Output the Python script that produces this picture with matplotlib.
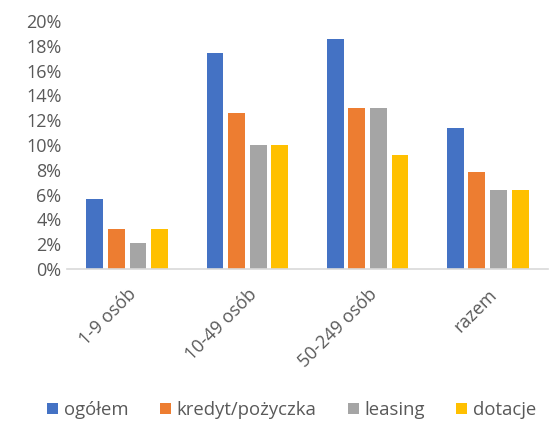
import numpy as np
import matplotlib.pyplot as plt
from matplotlib.ticker import PercentFormatter

plt.rcParams['font.family'] = ['Open Sans', 'DejaVu Sans']

kategorie = ['1-9 osób', '10-49 osób', '50-249 osób', 'razem']
serie = ['ogółem', 'kredyt/pożyczka', 'leasing', 'dotacje']
ogolem = [5.6, 17.4, 18.6, 11.4]
kredyt = [3.2, 12.6, 13.0, 7.8]
leasing = [2.1, 10.0, 13.0, 6.4]
dotacje = [3.2, 10.0, 9.2, 6.4]
kolory = ['#4472c4', '#ed7d31', '#a5a5a5', '#ffc000']

fig = plt.figure(figsize=(5.5, 4.24), dpi=100)
ax = fig.add_axes([0.122, 0.366, 0.874, 0.584])

x = np.arange(len(kategorie))
krok = 0.18
szer = 0.14
for i, (dane, nazwa, kolor) in enumerate(zip([ogolem, kredyt, leasing, dotacje], serie, kolory)):
    ax.bar(x + (i - 1.5) * krok, dane, width=szer, color=kolor, label=nazwa)

ax.set_xlim(-0.5, 3.5)
ax.set_ylim(0, 20)
ax.set_yticks(np.arange(0, 21, 2))
ax.yaxis.set_major_formatter(PercentFormatter(decimals=0))
ax.set_xticks(x)
ax.set_xticklabels(kategorie, rotation=45, ha='right', rotation_mode='anchor')

for s in ['top', 'right', 'left']:
    ax.spines[s].set_visible(False)
ax.spines['bottom'].set_color('#d9d9d9')
ax.spines['bottom'].set_linewidth(1.2)
ax.tick_params(axis='both', length=0, labelsize=13, colors='#595959')
ax.tick_params(axis='x', pad=12)
ax.tick_params(axis='y', pad=4)

fig.legend(loc='center', bbox_to_anchor=(0.53, 0.033), ncol=4, frameon=False,
           fontsize=13.3, handlelength=0.6, handleheight=0.6, handletextpad=0.3,
           columnspacing=1.7, labelcolor='#595959')

fig.savefig('out.png', dpi=100)
